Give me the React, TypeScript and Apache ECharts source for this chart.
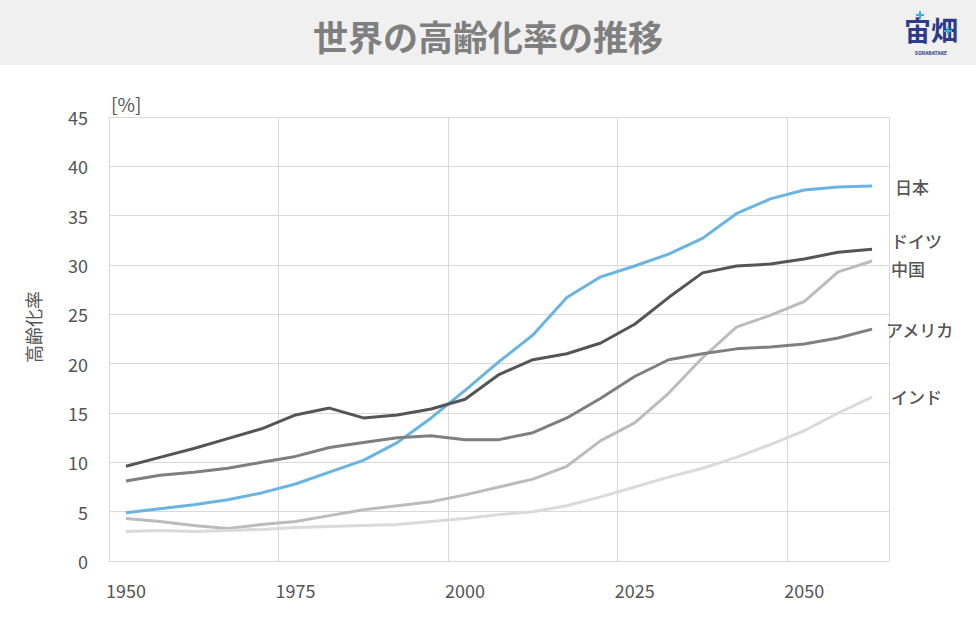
import { useEffect, useRef } from 'react'
import * as echarts from 'echarts'

const YEARS = [
  '1950', '1955', '1960', '1965', '1970', '1975', '1980', '1985', '1990', '1995', '2000', '2005',
  '2010', '2015', '2020', '2025', '2030', '2035', '2040', '2045', '2050', '2055', '2060',
]

const JAPAN = [4.9, 5.3, 5.7, 6.2, 6.9, 7.8, 9.0, 10.2, 12.0, 14.5, 17.3, 20.2, 22.9, 26.7, 28.8, 29.9, 31.1, 32.7, 35.2, 36.7, 37.6, 37.9, 38.0]
const GERMANY = [9.6, 10.5, 11.4, 12.4, 13.4, 14.8, 15.5, 14.5, 14.8, 15.4, 16.4, 18.9, 20.4, 21.0, 22.1, 24.0, 26.7, 29.2, 29.9, 30.1, 30.6, 31.3, 31.6]
const CHINA = [4.3, 4.0, 3.6, 3.3, 3.7, 4.0, 4.6, 5.2, 5.6, 6.0, 6.7, 7.5, 8.3, 9.6, 12.2, 14.0, 17.0, 20.6, 23.7, 24.9, 26.3, 29.3, 30.4]
const USA = [8.1, 8.7, 9.0, 9.4, 10.0, 10.6, 11.5, 12.0, 12.5, 12.7, 12.3, 12.3, 13.0, 14.5, 16.5, 18.7, 20.4, 21.0, 21.5, 21.7, 22.0, 22.6, 23.5]
const INDIA = [3.0, 3.1, 3.0, 3.1, 3.2, 3.4, 3.5, 3.6, 3.7, 4.0, 4.3, 4.7, 5.0, 5.6, 6.5, 7.5, 8.5, 9.4, 10.5, 11.8, 13.2, 15.0, 16.6]

const SERIES = [
  { name: '日本', data: JAPAN, color: '#6ab4e2', offset: [4, 0] },
  { name: 'ドイツ', data: GERMANY, color: '#555555', offset: [0, -9] },
  { name: '中国', data: CHINA, color: '#bcbcbc', offset: [0, 7] },
  { name: 'アメリカ', data: USA, color: '#7f7f7f', offset: [-5, 0] },
  { name: 'インド', data: INDIA, color: '#dadada', offset: [0, -1] },
]

const FONT = '"Noto Sans CJK JP", "Noto Sans", sans-serif'

// little cyan crosses of the logo
const cross = (x: number, y: number) => [
  { type: 'rect', shape: { x: x - 4, y: y - 1, width: 8, height: 2 }, style: { fill: '#35b3d4' } },
  { type: 'rect', shape: { x: x - 1, y: y - 4, width: 2, height: 8 }, style: { fill: '#35b3d4' } },
]

export default function App() {
  const ref = useRef<HTMLDivElement | null>(null)

  useEffect(() => {
    document.body.style.margin = '0'
    if (!ref.current) return
    const chart = echarts.init(ref.current, null, { renderer: 'svg' })
    chart.setOption({
      animation: false,
      backgroundColor: '#ffffff',
      grid: { left: 109, right: 87, top: 117, bottom: 76, containLabel: false },
      graphic: [
        { type: 'rect', left: 0, top: 0, shape: { width: 976, height: 65 }, style: { fill: '#f0f0f0' } },
        {
          type: 'text',
          x: 488,
          y: 35,
          style: {
            text: '世界の高齢化率の推移',
            font: `bold 35px ${FONT}`,
            fill: '#7f7f7f',
            align: 'center',
            verticalAlign: 'middle',
          },
        },
        {
          type: 'text',
          x: 931,
          y: 29,
          style: {
            text: '宙畑',
            font: `bold 27px ${FONT}`,
            fill: '#2e3a8c',
            align: 'center',
            verticalAlign: 'middle',
          },
        },
        ...cross(920, 15),
        ...cross(948, 31),
        {
          type: 'text',
          x: 931,
          y: 52,
          style: {
            text: 'SORABATAKE',
            font: `bold 5px ${FONT}`,
            fill: '#2e3a8c',
            align: 'center',
            verticalAlign: 'middle',
          },
        },
        {
          type: 'text',
          x: 111,
          y: 103,
          style: { text: '[%]', font: `19px ${FONT}`, fill: '#555555', verticalAlign: 'middle' },
        },
        {
          type: 'text',
          x: 33,
          y: 327,
          rotation: Math.PI / 2,
          style: {
            text: '高齢化率',
            font: `18px ${FONT}`,
            fill: '#555555',
            align: 'center',
            verticalAlign: 'middle',
          },
        },
      ],
      xAxis: {
        type: 'category',
        data: YEARS,
        boundaryGap: true,
        axisLine: { lineStyle: { color: '#d9d9d9', width: 1 } },
        axisTick: { show: false },
        axisLabel: { interval: 4, color: '#555555', fontSize: 18, fontFamily: FONT, margin: 20 },
        splitLine: { show: true, interval: 4, lineStyle: { color: '#d9d9d9', width: 1 } },
      },
      yAxis: {
        type: 'value',
        min: 0,
        max: 45,
        interval: 5,
        axisLine: { show: false },
        axisTick: { show: false },
        axisLabel: { color: '#555555', fontSize: 18, fontFamily: FONT, margin: 21 },
        splitLine: { lineStyle: { color: '#d9d9d9', width: 1 } },
      },
      series: SERIES.map((s) => ({
        type: 'line',
        name: s.name,
        data: s.data,
        showSymbol: false,
        symbol: 'none',
        lineStyle: { color: s.color, width: 3 },
        itemStyle: { color: s.color },
        endLabel: {
          show: true,
          formatter: '{a}',
          distance: 19,
          offset: s.offset,
          color: '#555555',
          fontSize: 17,
          fontFamily: FONT,
          fontWeight: 500,
        },
      })),
    })
    return () => chart.dispose()
  }, [])

  return <div ref={ref} style={{ width: 976, height: 637 }} />
}
